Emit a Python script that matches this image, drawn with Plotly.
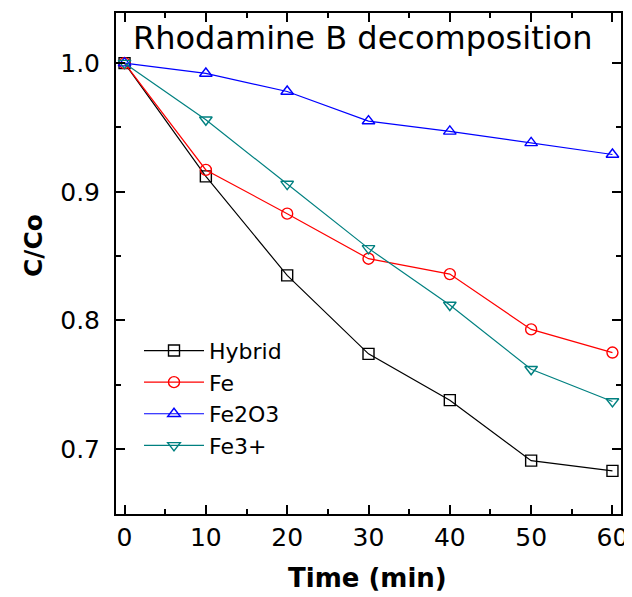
import plotly.graph_objects as go

time_min = [0, 10, 20, 30, 40, 50, 60]
hybrid = [1.0, 0.912, 0.835, 0.774, 0.738, 0.691, 0.683]
fe = [1.0, 0.917, 0.883, 0.848, 0.836, 0.793, 0.775]
fe2o3 = [1.0, 0.992, 0.978, 0.955, 0.947, 0.938, 0.929]
fe3 = [1.0, 0.956, 0.906, 0.856, 0.812, 0.762, 0.737]

series = [
    ("Hybrid", hybrid, "black", "square-open"),
    ("Fe", fe, "#FF0000", "circle-open"),
    ("Fe2O3", fe2o3, "#0000FF", "triangle-up-open"),
    ("Fe3+", fe3, "#008080", "triangle-down-open"),
]

FONT = "DejaVu Sans"

fig = go.Figure()
for name, vals, col, sym in series:
    fig.add_trace(go.Scatter(
        x=time_min, y=vals, name=name, mode="lines+markers",
        line=dict(color=col, width=1.2),
        marker=dict(symbol=sym, size=11, color=col, line=dict(color=col, width=1.4)),
    ))

axis_common = dict(
    showline=True, linecolor="black", linewidth=2, mirror="ticks",
    ticks="inside", ticklen=9, tickwidth=2, tickcolor="black",
    showgrid=False, zeroline=False,
    tickfont=dict(family=FONT, size=25, color="black"),
)

fig.update_xaxes(range=[-1.05, 61.05], tickvals=[0, 10, 20, 30, 40, 50, 60],
                 minor=dict(dtick=5, tick0=0, ticks="inside", ticklen=5, tickwidth=2, tickcolor="black"),
                 **axis_common)
fig.update_yaxes(range=[0.6495, 1.039], tickvals=[0.7, 0.8, 0.9, 1.0], tickformat=".1f",
                 ticklabelstandoff=9,
                 minor=dict(dtick=0.05, tick0=0.7, ticks="inside", ticklen=5, tickwidth=2, tickcolor="black"),
                 **axis_common)

# plot area in page pixels: x 116..621, y 11..514 (page has an 8px body margin)
fig.add_annotation(text="Rhodamine B decomposition", xref="paper", yref="paper",
                   x=0.488, y=0.95, xanchor="center", yanchor="middle", showarrow=False,
                   font=dict(family=FONT, size=32, color="black"))
fig.add_annotation(text="<b>Time (min)</b>", xref="paper", yref="paper",
                   x=(367 - 116) / 505, y=-(578 - 514) / 503, xanchor="center", yanchor="middle",
                   showarrow=False, font=dict(family=FONT, size=26, color="black"))
fig.add_annotation(text="<b>C/Co</b>", xref="paper", yref="paper", textangle=-90,
                   x=-(116 - 33) / 505, y=1 - (245 - 11) / 503, xanchor="center", yanchor="middle",
                   showarrow=False, font=dict(family=FONT, size=25, color="black"))

fig.update_layout(
    width=632, height=597,
    margin=dict(l=108, r=19, t=3, b=91),
    paper_bgcolor="white", plot_bgcolor="white",
    showlegend=True,
    legend=dict(x=(139 - 116) / 505, y=1 - (329 - 11) / 503, xanchor="left", yanchor="top",
                bgcolor="rgba(0,0,0,0)", font=dict(family=FONT, size=22, color="black"),
                itemwidth=60, tracegroupgap=0),
)

fig.write_html("out.html")
